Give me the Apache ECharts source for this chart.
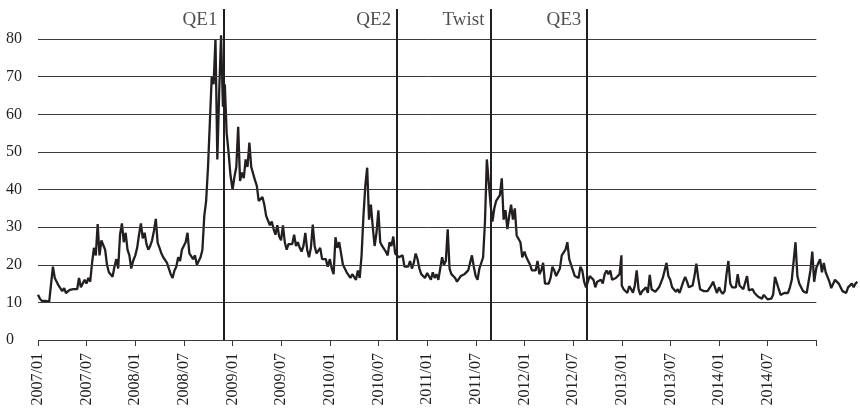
<!DOCTYPE html>
<html lang="en">
<head>
  <meta charset="utf-8">
</head>
<body style="margin: 0">
  <div id="container" style="width: 860px; height: 413px"></div>

  <script type="text/javascript" src="https://fastly.jsdelivr.net/npm/echarts@6/dist/echarts.min.js"></script>
  <script type="text/javascript">
    // weekly VIX level, one array per year, first entry = first week of January
    var vix2007 = [12.0, 11.0, 10.4, 10.7, 10.4, 10.6, 10.2, 10.6, 19.5, 16.5,
      17.0, 14.5, 14.8, 13.0, 13.8, 12.5, 12.9, 13.3, 13.0, 13.5,
      13.2, 13.5, 16.5, 14.0, 15.0, 16.0, 15.0, 16.5, 15.5, 20.5,
      24.5, 22.5, 30.8, 22.5, 26.5, 26.0, 24.0, 20.0, 18.0, 18.5,
      16.8, 19.5, 21.5, 19.0, 28.0, 31.0, 26.0, 28.5, 24.0, 22.5,
      19.0, 21.0];
    var vix2008 = [22.5, 24.5, 28.0, 31.0, 27.0, 28.5, 25.5, 24.0, 25.0, 26.5,
      29.0, 32.2, 25.8, 24.5, 23.0, 22.0, 21.5, 20.5, 19.0, 17.5,
      16.5, 18.5, 19.5, 22.0, 21.0, 24.0, 23.5, 26.0, 28.5, 23.0,
      23.5, 21.5, 22.5, 20.0, 19.5, 22.0, 24.0, 33.0, 37.0, 46.0,
      58.0, 70.0, 68.0, 80.0, 48.0, 66.0, 81.0, 62.0, 68.0, 55.0,
      50.0, 44.0];
    var vix2009 = [40.0, 43.4, 46.0, 56.7, 42.3, 44.5, 43.0, 48.0, 46.0, 52.5,
      46.0, 45.5, 42.5, 41.0, 37.0, 36.5, 38.0, 36.0, 33.0, 33.5,
      30.5, 31.5, 29.5, 28.0, 30.5, 27.5, 26.5, 30.5, 26.0, 24.0,
      25.5, 26.0, 25.5, 28.0, 25.0, 26.0, 24.5, 23.5, 25.0, 28.5,
      24.0, 22.0, 24.5, 30.7, 25.0, 23.0, 22.5, 24.5, 21.5, 22.0,
      21.5, 19.5];
    var vix2010 = [21.5, 19.0, 17.5, 27.3, 24.5, 26.0, 23.0, 20.0, 19.5, 18.0,
      17.5, 16.5, 17.5, 17.0, 16.0, 18.5, 16.5, 22.5, 33.0, 41.0,
      45.8, 32.0, 36.0, 30.0, 25.0, 28.5, 34.5, 26.0, 25.0, 25.5,
      23.5, 22.5, 26.0, 25.0, 27.5, 23.0, 22.5, 22.0, 21.5, 22.5,
      19.5, 19.0, 19.5, 21.0, 19.0, 20.5, 23.0, 21.5, 19.0, 17.5,
      17.0, 16.5];
    var vix2011 = [17.8, 17.5, 16.0, 18.0, 16.5, 17.5, 16.0, 16.5, 22.0, 20.0,
      21.0, 29.4, 19.0, 17.5, 17.0, 16.5, 15.5, 15.0, 17.0, 16.5,
      17.5, 18.0, 18.5, 18.5, 22.5, 19.5, 17.0, 16.0, 19.0, 18.5,
      22.0, 31.5, 48.0, 42.0, 36.0, 31.5, 35.0, 37.0, 37.5, 38.5,
      43.0, 32.0, 34.5, 29.5, 33.0, 36.0, 32.0, 35.0, 27.8, 28.0,
      26.0, 22.0];
    var vix2012 = [23.5, 22.0, 21.0, 20.0, 18.5, 19.0, 18.5, 21.0, 17.5, 18.5,
      20.5, 15.0, 15.5, 15.0, 16.5, 19.5, 18.5, 17.0, 17.0, 19.0,
      22.5, 22.0, 24.0, 26.0, 21.5, 20.0, 19.5, 17.0, 17.5, 16.5,
      19.5, 18.5, 15.5, 14.0, 13.5, 17.0, 17.5, 16.0, 14.0, 15.5,
      15.0, 16.0, 15.0, 17.5, 18.5, 17.5, 18.5, 16.0, 15.5, 16.5,
      16.0, 17.5, 22.5];
    var vix2013 = [14.5, 13.5, 13.5, 12.5, 14.3, 13.5, 12.6, 14.5, 18.5, 13.5,
      12.0, 13.0, 13.5, 14.0, 12.5, 17.3, 13.5, 14.0, 12.8, 12.5,
      14.0, 14.5, 16.5, 16.5, 20.5, 17.0, 16.0, 14.0, 13.5, 12.8,
      13.5, 12.5, 13.0, 15.5, 16.8, 15.5, 14.0, 13.5, 14.5, 17.0,
      20.3, 16.5, 13.5, 13.5, 13.0, 12.5, 13.0, 12.5, 14.5, 15.5,
      14.0, 12.5];
    var vix2014 = [14.0, 12.9, 12.3, 13.0, 17.5, 21.0, 15.0, 14.0, 14.0, 14.0,
      17.5, 14.5, 15.0, 13.5, 14.0, 17.0, 13.2, 13.3, 13.5, 12.5,
      12.0, 11.5, 12.0, 11.0, 12.0, 11.5, 10.8, 11.2, 11.0, 12.0,
      16.8, 16.5, 13.5, 12.0, 11.8, 12.5, 13.0, 12.5, 14.0, 16.0,
      16.5, 26.0, 17.0, 15.0, 14.0, 13.0, 13.5, 12.5, 12.5, 18.5,
      23.5, 15.5];
    var vix2015 = [19.2, 19.0, 21.5, 18.0, 20.5, 18.0, 17.5, 15.5, 13.8, 14.0,
      16.0, 15.5, 15.0, 15.0, 13.0, 13.5, 12.5, 14.0, 13.5, 15.0,
      14.0, 15.0, 15.5];

    var years = [2007, 2008, 2009, 2010, 2011, 2012, 2013, 2014, 2015];
    var yearValues = [vix2007, vix2008, vix2009, vix2010, vix2011, vix2012, vix2013, vix2014, vix2015];

    // gridlines, and the labelled part of the time axis (2007/01 .. 2015/01)
    var yTicks = [10, 20, 30, 40, 50, 60, 70, 80];
    var axisEndMonth = 96;

    // policy announcements drawn as vertical lines
    var eventNames = ['QE1', 'QE2', 'Twist', 'QE3'];
    var eventDates = ['2008-11-27', '2010-09-10', '2011-08-26', '2012-08-24'];

    // x axis is in months since 2007/01
    function toMonths(dateStr) {
      var p = dateStr.split('-').map(Number);
      var days = new Date(p[0], p[1], 0).getDate();
      return (p[0] - 2007) * 12 + (p[1] - 1) + (p[2] - 1) / days;
    }

    var vixData = [];
    years.forEach(function (y, k) {
      yearValues[k].forEach(function (v, j) {
        vixData.push([(y - 2007) * 12 + j * 7 / 30.4375, v]);
      });
    });

    var eventX = eventDates.map(toMonths);
    var LINE_TOP = 88;
    var LABEL_Y = 85;

    var font = "'Liberation Serif', 'Times New Roman', serif";
    var ink = '#231f20';
    var gridColor = '#3a3a3a';

    var dom = document.getElementById('container');
    var myChart = echarts.init(dom, null, { renderer: 'canvas' });

    var option = {
      animation: false,
      backgroundColor: '#ffffff',
      grid: {
        left: 38,
        right: -5,
        top: 9,
        bottom: 73,
        outerBoundsMode: 'none'
      },
      xAxis: {
        type: 'value',
        min: 0,
        max: 102,
        interval: 6,
        axisLine: { show: false },
        axisTick: { show: true, length: 6, lineStyle: { color: gridColor } },
        splitLine: { show: false },
        axisLabel: {
          rotate: 90,
          margin: 13,
          color: ink,
          fontFamily: font,
          fontSize: 16,
          formatter: function (m) {
            if (m >= axisEndMonth) return '';
            var y = 2007 + Math.floor(m / 12);
            var mo = m % 12 + 1;
            return y + '/' + (mo < 10 ? '0' + mo : mo);
          }
        }
      },
      yAxis: {
        type: 'value',
        min: 0,
        max: LINE_TOP,
        interval: 10,
        axisLine: { show: false },
        axisTick: { show: false },
        splitLine: { show: false },
        axisLabel: {
          showMaxLabel: false,
          align: 'left',
          margin: 32,
          color: ink,
          fontFamily: font,
          fontSize: 16
        }
      },
      series: [
        {
          name: 'grid',
          type: 'line',
          data: [],
          z: 1,
          markLine: {
            silent: true,
            symbol: ['none', 'none'],
            label: { show: false },
            lineStyle: { color: gridColor, width: 1, type: 'solid' },
            data: [0].concat(yTicks).map(function (v) {
              return [{ coord: [0, v] }, { coord: [axisEndMonth, v] }];
            })
          }
        },
        {
          name: 'VIX',
          type: 'line',
          data: vixData,
          z: 3,
          showSymbol: false,
          clip: false,
          lineStyle: { color: ink, width: 2.3 }
        },
        {
          name: 'events',
          type: 'scatter',
          symbolSize: 0,
          z: 4,
          data: eventNames.map(function (n, i) {
            return { name: n, value: [eventX[i], LABEL_Y] };
          }),
          label: {
            show: true,
            position: 'left',
            distance: 6,
            formatter: '{b}',
            color: ink,
            fontFamily: font,
            fontSize: 19
          },
          markLine: {
            silent: true,
            symbol: ['none', 'none'],
            label: { show: false },
            lineStyle: { color: ink, width: 2, type: 'solid' },
            data: eventX.map(function (x) {
              return [{ coord: [x, 0] }, { coord: [x, LINE_TOP] }];
            })
          }
        }
      ]
    };

    myChart.setOption(option);
    window.addEventListener('resize', myChart.resize);
  </script>
</body>
</html>
